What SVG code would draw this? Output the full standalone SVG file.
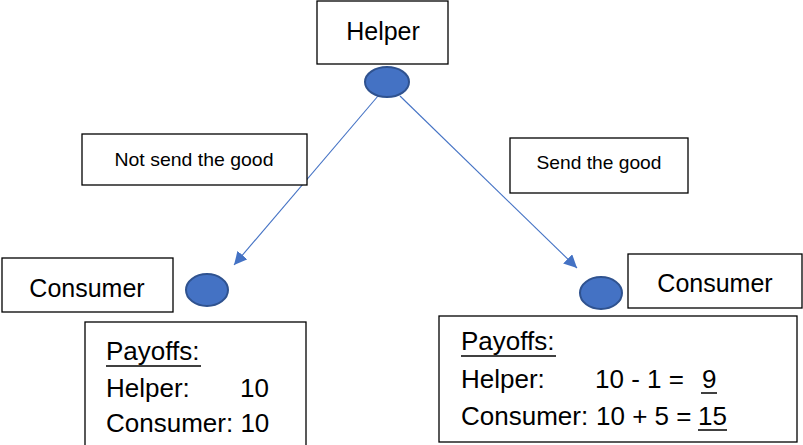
<svg xmlns="http://www.w3.org/2000/svg" width="803" height="445" viewBox="0 0 803 445">
<defs>
<style>
.box{fill:#fff;stroke:#000;stroke-width:1.3}
.node{fill:#4472C4;stroke:#2F528F;stroke-width:2}
.big{font-family:"Liberation Sans",Arial,sans-serif;font-size:25px;fill:#000}
.pay{font-family:"Liberation Sans",Arial,sans-serif;font-size:26px;fill:#000}
.small{font-family:"Liberation Sans",Arial,sans-serif;font-size:19px;fill:#000}
.conn{stroke:#4472C4;stroke-width:1.1;fill:none}
.ul{stroke:#000;stroke-width:1.5}
</style>
<marker id="arr" viewBox="0 0 10 10" refX="10" refY="5" markerWidth="13" markerHeight="13" markerUnits="userSpaceOnUse" orient="auto">
<path d="M0,0 L10,5 L0,10 z" fill="#4472C4"/>
</marker>
</defs>
<rect width="803" height="445" fill="#fff"/>
<g id="connectors">
<line class="conn" x1="378" y1="96" x2="234" y2="265" marker-end="url(#arr)"/>
<line class="conn" x1="400" y1="96" x2="577" y2="268" marker-end="url(#arr)"/>
</g>
<g id="helper-box">
<rect class="box" x="317" y="1" width="131" height="63"/>
<text class="big" x="383" y="40" text-anchor="middle">Helper</text>
</g>
<g id="helper-node">
<ellipse class="node" cx="387" cy="82" rx="22" ry="15"/>
</g>
<g id="label-not-send">
<rect class="box" x="82" y="134" width="225" height="51"/>
<text class="small" x="194" y="166" text-anchor="middle" textLength="159" lengthAdjust="spacingAndGlyphs">Not send the good</text>
</g>
<g id="label-send">
<rect class="box" x="510" y="138" width="178" height="55"/>
<text class="small" x="599" y="169" text-anchor="middle" textLength="125" lengthAdjust="spacingAndGlyphs">Send the good</text>
</g>
<g id="consumer-left-box">
<rect class="box" x="2" y="258" width="171" height="54"/>
<text class="big" x="87" y="297" text-anchor="middle">Consumer</text>
</g>
<g id="consumer-left-node">
<ellipse class="node" cx="207" cy="290" rx="21" ry="16"/>
</g>
<g id="consumer-right-box">
<rect class="box" x="628" y="254" width="174" height="54"/>
<text class="big" x="715" y="292" text-anchor="middle">Consumer</text>
</g>
<g id="consumer-right-node">
<ellipse class="node" cx="601" cy="293" rx="21" ry="16"/>
</g>
<g id="payoffs-left">
<rect class="box" x="85" y="322" width="221" height="130"/>
<text class="pay" x="106" y="360">Payoffs:</text>
<line class="ul" x1="106" y1="366" x2="201" y2="366"/>
<text class="pay" x="106" y="397">Helper:</text>
<text class="pay" x="240" y="397">10</text>
<text class="pay" x="106" y="432">Consumer: 10</text>
</g>
<g id="payoffs-right">
<rect class="box" x="439" y="316" width="358" height="126"/>
<text class="pay" x="461" y="350">Payoffs:</text>
<line class="ul" x1="461" y1="356" x2="556" y2="356"/>
<text class="pay" x="461" y="388">Helper:</text>
<text class="pay" x="595" y="388">10 - 1 =</text>
<text class="pay" x="702" y="388">9</text>
<line class="ul" x1="701" y1="393" x2="717" y2="393"/>
<text class="pay" x="461" y="425">Consumer:</text>
<text class="pay" x="596" y="425">10 + 5 =</text>
<text class="pay" x="698" y="425">15</text>
<line class="ul" x1="698" y1="430" x2="727" y2="430"/>
</g>
</svg>
